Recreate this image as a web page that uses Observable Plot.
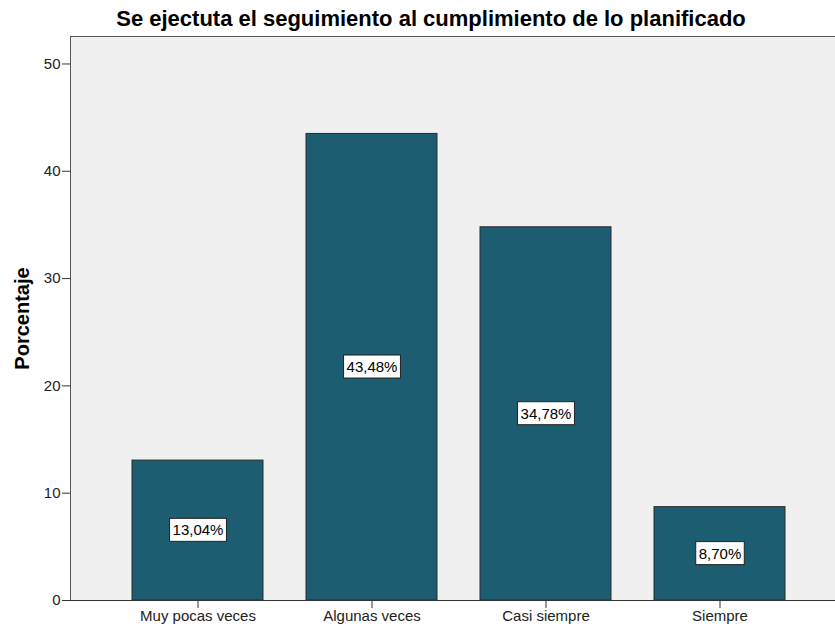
<!DOCTYPE html>
<html><head><meta charset="utf-8">
<script src="https://cdn.jsdelivr.net/npm/d3@7"></script>
<script src="https://cdn.jsdelivr.net/npm/@observablehq/plot@0.6"></script>
<style>body{margin:0;background:#fff;} svg{display:block;}</style>
</head><body><div id="chart"></div>
<script>
const categories = ["Muy pocas veces", "Algunas veces", "Casi siempre", "Siempre"];
const percentages = [13.04, 43.48, 34.78, 8.70];
const yTicks = [0, 10, 20, 30, 40, 50];
const title = "Se ejectuta el seguimiento al cumplimiento de lo planificado";
const yLabel = "Porcentaje";

const fmt = v => v.toFixed(2).replace(".", ",") + "%";
const data = categories.map((c, i) => ({cat: c, pct: percentages[i], label: fmt(percentages[i])}));
const labelSet = new Set(data.map(d => d.label));

const chart = Plot.plot({
  width: 835, height: 631,
  marginLeft: 70, marginRight: 0, marginTop: 36, marginBottom: 31,
  style: {fontFamily: "'Liberation Sans', Arial, sans-serif", fontSize: "15px", color: "#222", background: "#fff"},
  x: {domain: categories, range: [109.5, 807.2], paddingInner: 0.25, paddingOuter: 0.125, label: null},
  y: {domain: [0, 52.56], label: null},
  marks: [
    Plot.frame({fill: "#f0f0f0", stroke: null}),
    Plot.frame({anchor: "top", stroke: "#555"}),
    Plot.frame({anchor: "left", stroke: "#555"}),
    Plot.barY(data, {x: "cat", y: "pct", fill: "#1c5d72", stroke: "#2a2a2a", strokeWidth: 1}),
    Plot.text(data, {x: "cat", y: d => d.pct / 2, text: "label", fill: "#000", fontSize: 15}),
    Plot.ruleY([0], {stroke: "#333"}),
    Plot.axisY({ticks: yTicks, tickSize: 8, tickPadding: 2, label: null, fontSize: 15, stroke: "#333", fill: "#222"}),
    Plot.axisX({tickSize: 8, tickPadding: 2, label: null, fontSize: 15, stroke: "#333", fill: "#222"}),
    Plot.text([yLabel], {frameAnchor: "left", dx: -48, rotate: -90, textAnchor: "middle", fontWeight: "bold", fontSize: 20, fill: "#000"}),
    Plot.text([title], {frameAnchor: "top", lineAnchor: "middle", dy: -18, dx: -22, fontWeight: "bold", fontSize: 22, fill: "#000"})
  ]
});
document.getElementById("chart").appendChild(chart);

// white boxes behind the value labels, sized from the rendered text
chart.querySelectorAll("text").forEach(t => {
  if (!labelSet.has(t.textContent)) return;
  const b = t.getBBox();
  const padX = 3, h = 23;
  const r = document.createElementNS("http://www.w3.org/2000/svg", "rect");
  r.setAttribute("x", b.x - padX);
  r.setAttribute("y", b.y + b.height / 2 - h / 2);
  r.setAttribute("width", b.width + 2 * padX);
  r.setAttribute("height", h);
  r.setAttribute("fill", "#fff");
  r.setAttribute("stroke", "#222");
  const tr = t.getAttribute("transform");
  if (tr) r.setAttribute("transform", tr);
  t.parentNode.insertBefore(r, t);
});
</script>
</body></html>
